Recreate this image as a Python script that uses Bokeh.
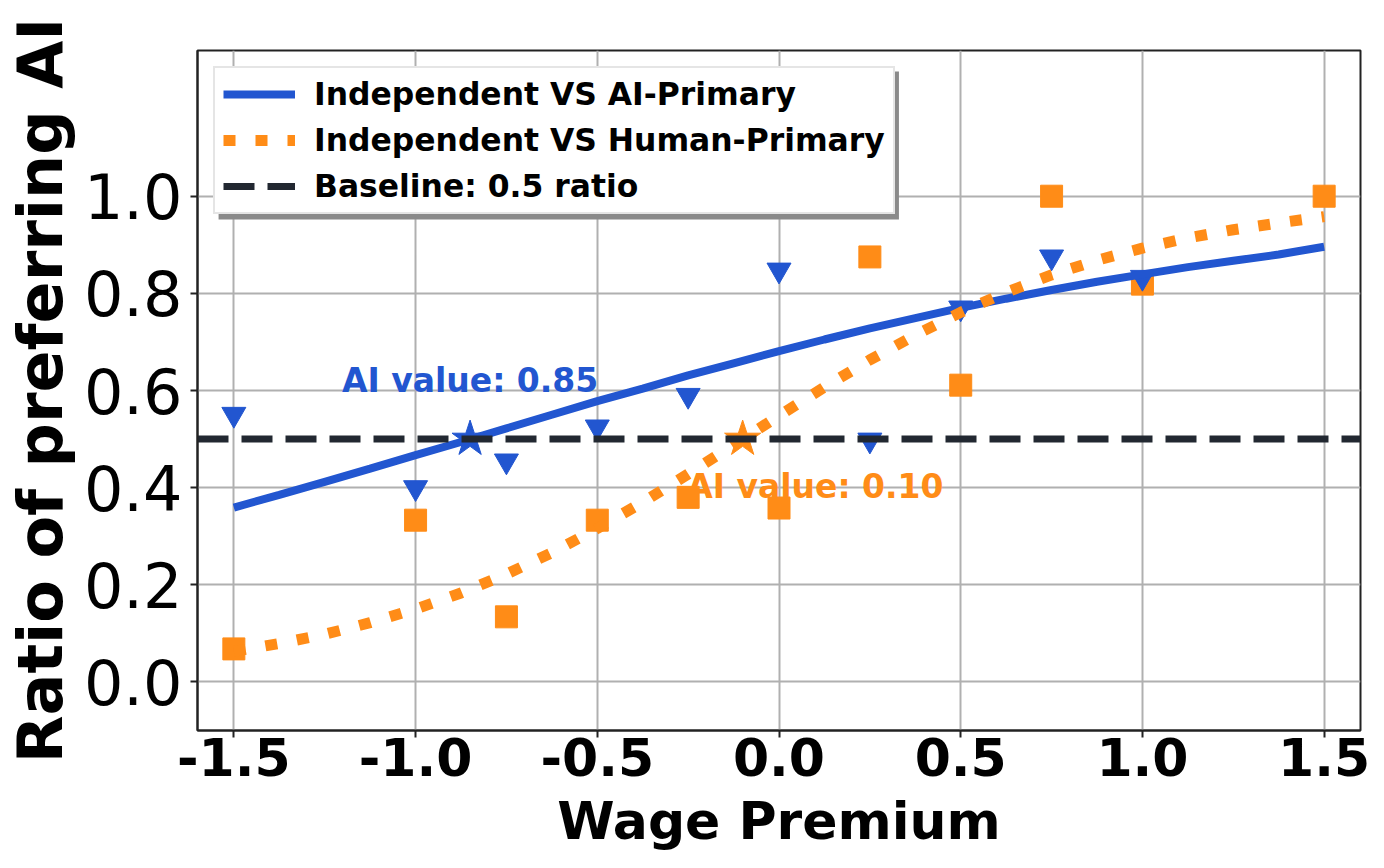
from bokeh.plotting import figure
from bokeh.models import Range1d, FixedTicker, Legend, LegendItem, PrintfTickFormatter
from bokeh.embed import file_html
from bokeh.resources import INLINE
from bokeh.core.properties import value

# ---- data ----
wage = [-1.5, -1.0, -0.75, -0.5, -0.25, 0.0, 0.25, 0.5, 0.75, 1.0]
ai_primary_obs = [0.551, 0.40, 0.455, 0.525, 0.59, 0.848, 0.498, 0.77, 0.875, 0.833]

wage_h = [-1.5, -1.0, -0.75, -0.5, -0.25, 0.0, 0.25, 0.5, 0.75, 1.0, 1.5]
human_primary_obs = [0.068, 0.333, 0.134, 0.333, 0.38, 0.358, 0.875, 0.611, 1.0, 0.819, 1.0]

fit_x = [-1.5, -1.375, -1.25, -1.125, -1.0, -0.875, -0.75, -0.625, -0.5, -0.375, -0.25, -0.125,
         0.0, 0.125, 0.25, 0.375, 0.5, 0.625, 0.75, 0.875, 1.0, 1.125, 1.25, 1.375, 1.5]
ai_fit = [0.359, 0.385, 0.412, 0.439, 0.467, 0.494, 0.522, 0.550, 0.578, 0.604, 0.631, 0.656,
          0.681, 0.705, 0.728, 0.749, 0.770, 0.789, 0.807, 0.824, 0.839, 0.854, 0.867, 0.880, 0.896]
human_fit = [0.063, 0.079, 0.098, 0.122, 0.150, 0.183, 0.222, 0.266, 0.316, 0.370, 0.428, 0.488,
             0.548, 0.607, 0.663, 0.714, 0.761, 0.802, 0.838, 0.868, 0.893, 0.914, 0.931, 0.945, 0.958]

baseline_x = [-1.6, 1.6]
baseline_y = [0.5, 0.5]

ai_star_x, ai_star_y = [-0.85], [0.5]
human_star_x, human_star_y = [-0.1], [0.5]

ai_label = "AI value: 0.85"
human_label = "AI value: 0.10"
ai_label_pos = (-0.85, 0.62)
human_label_pos = (0.1, 0.403)

x_ticks = [-1.5, -1.0, -0.5, 0.0, 0.5, 1.0, 1.5]
y_ticks = [0.0, 0.2, 0.4, 0.6, 0.8, 1.0]

legend_labels = ["Independent VS AI-Primary", "Independent VS Human-Primary", "Baseline: 0.5 ratio"]

BLUE = "#2256D0"
ORANGE = "#FF8C17"
DARK = "#222831"
FONT = "DejaVu Sans"

p = figure(width=1384, height=868, output_backend="svg", toolbar_location=None,
           x_range=Range1d(-1.6, 1.6), y_range=Range1d(-0.1, 1.3),
           min_border_left=197, min_border_right=24, min_border_top=50, min_border_bottom=138)

p.outline_line_color = "#222222"
p.outline_line_width = 2
p.background_fill_color = "white"
p.border_fill_color = "white"

for g in (p.xgrid, p.ygrid):
    g.grid_line_color = "#b0b0b0"
    g.grid_line_width = 2

p.xaxis.ticker = FixedTicker(ticks=x_ticks)
p.yaxis.ticker = FixedTicker(ticks=y_ticks)
p.xaxis.formatter = PrintfTickFormatter(format="%.1f")
p.yaxis.formatter = PrintfTickFormatter(format="%.1f")

for ax in (p.xaxis, p.yaxis):
    ax.axis_line_color = "#222222"
    ax.axis_line_width = 2
    ax.major_tick_line_color = "#222222"
    ax.major_tick_line_width = 2
    ax.major_tick_out = 7
    ax.major_tick_in = 0
    ax.minor_tick_out = 0
    ax.minor_tick_in = 0
    ax.major_label_text_font = FONT
    ax.axis_label_text_font = FONT
    ax.axis_label_text_font_style = "bold"
    ax.major_label_text_color = "black"
    ax.axis_label_text_color = "black"

p.xaxis.major_label_text_font_size = "52px"
p.xaxis.major_label_text_font_style = "bold"
p.xaxis.major_label_standoff = 0
p.xaxis.axis_label = "Wage Premium"
p.xaxis.axis_label_text_font_size = "52px"
p.xaxis.axis_label_standoff = 12

p.yaxis.major_label_text_font_size = "62px"
p.yaxis.major_label_text_font_style = "normal"
p.yaxis.major_label_standoff = 8
p.yaxis.axis_label = "Ratio of preferring AI"
p.yaxis.axis_label_text_font_size = "62px"
p.yaxis.axis_label_standoff = 4

# legend shadow (decoration)
p.quad(left=[-1.542], right=[0.330], top=[1.257], bottom=[0.952], fill_color="#8a8a8a",
       line_color=None, fill_alpha=1.0)

# observed points
p.scatter(wage_h, human_primary_obs, marker="square", size=22, fill_color=ORANGE, line_color=ORANGE)
p.scatter(wage, ai_primary_obs, marker="inverted_triangle", size=24, fill_color=BLUE, line_color=BLUE)

# stars
p.scatter(ai_star_x, ai_star_y, marker="star", size=38, fill_color=BLUE, line_color=BLUE)
p.scatter(human_star_x, human_star_y, marker="star", size=38, fill_color=ORANGE, line_color=ORANGE)

# fitted curves
r_ai = p.line(fit_x, ai_fit, line_color=BLUE, line_width=8)
r_h = p.line(fit_x, human_fit, line_color=ORANGE, line_width=11, line_dash="12 20")
r_b = p.line(baseline_x, baseline_y, line_color=DARK, line_width=7, line_dash="31 13")

# annotations
p.text(x=[ai_label_pos[0]], y=[ai_label_pos[1]], text=[ai_label], text_color=BLUE,
       text_font=value(FONT), text_font_style="bold", text_font_size="33px",
       text_align="center", text_baseline="alphabetic")
p.text(x=[human_label_pos[0]], y=[human_label_pos[1]], text=[human_label], text_color=ORANGE,
       text_font=value(FONT), text_font_style="bold", text_font_size="33px",
       text_align="center", text_baseline="alphabetic")

legend = Legend(items=[LegendItem(label=legend_labels[0], renderers=[r_ai]),
                       LegendItem(label=legend_labels[1], renderers=[r_h]),
                       LegendItem(label=legend_labels[2], renderers=[r_b])],
                location="top_left")
legend.margin = 16
legend.padding = 8
legend.spacing = 10
legend.glyph_width = 72
legend.glyph_height = 30
legend.label_standoff = 19
legend.label_text_font = FONT
legend.label_text_font_size = "31.4px"
legend.label_text_font_style = "bold"
legend.label_text_color = "black"
legend.border_line_color = "#cccccc"
legend.border_line_width = 2
legend.background_fill_color = "white"
legend.background_fill_alpha = 1.0
p.add_layout(legend)

open("out.html", "w").write(file_html(p, INLINE))
